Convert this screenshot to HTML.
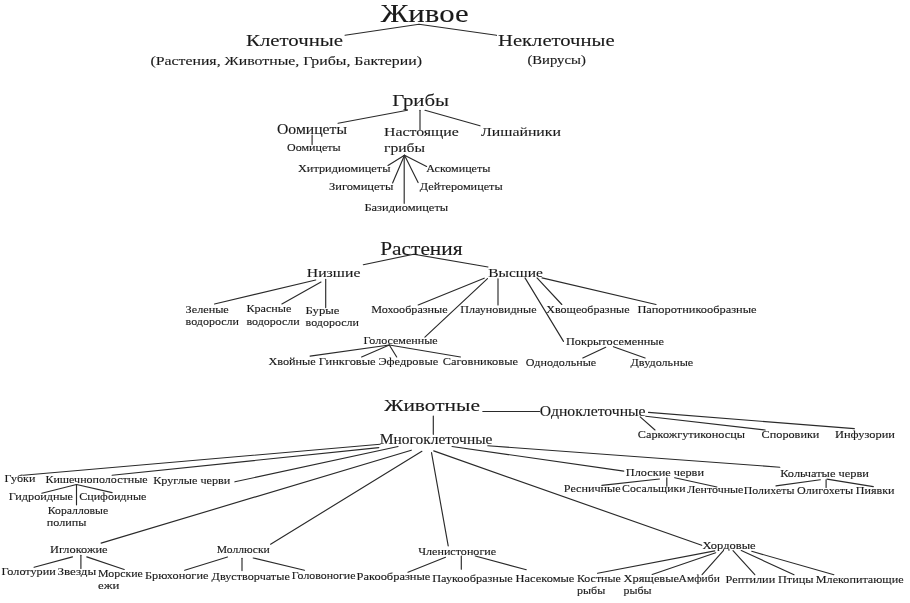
<!DOCTYPE html><html><head><meta charset="utf-8"><style>html,body{margin:0;padding:0;background:#fff;overflow:hidden;width:910px;height:603px;}svg{display:block;will-change:transform;}text{font-family:"Liberation Serif",serif;fill:#1a1a1a;stroke:#1a1a1a;stroke-width:0.12px;}</style></head><body>
<svg width="910" height="603" viewBox="0 0 910 603">
<rect width="910" height="603" fill="#fff"/>
<g fill="none" stroke="#2a2a2a" stroke-width="1.15" stroke-linecap="round" stroke-linejoin="round">
<polyline points="345.0,35.2 419.0,24.2 496.5,35.3"/>
<polyline points="338.1,123.3 407.4,110.3"/>
<polyline points="420.0,110.3 420.0,130.0"/>
<polyline points="425.0,110.3 480.0,125.8"/>
<polyline points="312.1,135.0 312.1,144.5"/>
<polyline points="388.0,165.5 404.5,155.3"/>
<polyline points="392.6,183.0 404.5,155.3"/>
<polyline points="404.2,155.3 404.2,203.3"/>
<polyline points="418.1,182.6 404.5,155.3"/>
<polyline points="426.6,166.4 404.5,155.3"/>
<polyline points="363.3,264.7 413.7,254.2 488.0,267.0"/>
<polyline points="214.5,304.0 315.7,280.0"/>
<polyline points="281.9,304.0 321.0,282.1"/>
<polyline points="325.7,279.4 325.7,307.6"/>
<polyline points="418.2,305.0 484.2,278.2"/>
<polyline points="424.9,337.2 487.5,278.7"/>
<polyline points="498.0,278.7 498.0,305.0"/>
<polyline points="563.5,341.4 525.0,277.9"/>
<polyline points="561.8,304.5 537.0,277.9"/>
<polyline points="656.0,304.5 542.0,277.9"/>
<polyline points="310.1,356.1 389.3,345.0"/>
<polyline points="361.6,357.0 389.3,345.0"/>
<polyline points="396.7,357.0 389.3,345.0"/>
<polyline points="460.5,357.0 389.3,345.0"/>
<polyline points="582.8,358.0 605.7,347.3"/>
<polyline points="645.1,358.0 613.4,346.7"/>
<polyline points="482.8,411.5 539.6,411.5"/>
<polyline points="433.3,416.1 433.3,434.3"/>
<polyline points="640.2,416.9 655.0,430.0"/>
<polyline points="645.7,416.2 765.2,430.0"/>
<polyline points="648.5,412.4 854.3,428.6"/>
<polyline points="380.1,444.3 23.1,475.2"/>
<polyline points="378.8,447.6 112.1,475.2"/>
<polyline points="398.1,446.5 234.9,481.8"/>
<polyline points="411.3,450.2 101.1,543.1"/>
<polyline points="421.9,451.3 270.6,544.2"/>
<polyline points="431.5,452.6 448.2,545.9"/>
<polyline points="433.7,450.9 701.7,545.3"/>
<polyline points="452.0,446.5 623.8,471.1"/>
<polyline points="487.8,445.8 779.8,467.2"/>
<polyline points="41.8,493.2 76.5,484.5 112.1,492.6"/>
<polyline points="76.5,484.5 76.5,504.8"/>
<polyline points="601.9,485.4 659.4,479.0"/>
<polyline points="666.8,477.7 666.8,486.2"/>
<polyline points="674.7,477.7 716.9,487.0"/>
<polyline points="776.0,485.9 820.3,479.8"/>
<polyline points="826.1,479.8 826.1,487.4"/>
<polyline points="827.0,479.1 873.3,486.6"/>
<polyline points="34.1,567.3 72.5,556.9"/>
<polyline points="80.9,555.2 80.9,568.4"/>
<polyline points="86.8,556.9 124.2,569.5"/>
<polyline points="184.7,570.3 227.5,557.0"/>
<polyline points="242.0,558.2 242.0,570.6"/>
<polyline points="253.2,558.0 304.4,570.3"/>
<polyline points="408.0,572.3 445.5,557.3"/>
<polyline points="461.3,556.0 461.3,569.2"/>
<polyline points="475.3,556.0 526.3,569.7"/>
<polyline points="597.6,573.3 714.8,550.9"/>
<polyline points="652.2,574.5 715.7,552.8"/>
<polyline points="702.1,574.7 723.4,550.6"/>
<polyline points="754.8,574.7 733.0,550.6"/>
<polyline points="794.0,574.7 741.3,550.6"/>
<polyline points="833.9,574.7 751.7,551.3"/>
</g>
<text x="380.8" y="21.8" font-size="25.0" textLength="87.8" lengthAdjust="spacingAndGlyphs">Живое</text>
<text x="246.0" y="46.0" font-size="17.0" textLength="97.0" lengthAdjust="spacingAndGlyphs">Клеточные</text>
<text x="150.4" y="65.0" font-size="12.5" textLength="271.6" lengthAdjust="spacingAndGlyphs">(Растения, Животные, Грибы, Бактерии)</text>
<text x="498.0" y="46.2" font-size="17.0" textLength="116.6" lengthAdjust="spacingAndGlyphs">Неклеточные</text>
<text x="527.4" y="64.0" font-size="12.5" textLength="58.4" lengthAdjust="spacingAndGlyphs">(Вирусы)</text>
<text x="392.2" y="105.9" font-size="17.5" textLength="56.8" lengthAdjust="spacingAndGlyphs">Грибы</text>
<text x="277.0" y="133.9" font-size="13.6" textLength="70.0" lengthAdjust="spacingAndGlyphs">Оомицеты</text>
<text x="287.0" y="151.0" font-size="10.0" textLength="53.6" lengthAdjust="spacingAndGlyphs">Оомицеты</text>
<text x="384.0" y="136.0" font-size="13.2" textLength="74.8" lengthAdjust="spacingAndGlyphs">Настоящие</text>
<text x="384.0" y="151.6" font-size="13.2" textLength="41.0" lengthAdjust="spacingAndGlyphs">грибы</text>
<text x="481.0" y="136.0" font-size="13.2" textLength="80.0" lengthAdjust="spacingAndGlyphs">Лишайники</text>
<text x="298.0" y="172.1" font-size="10.5" textLength="92.4" lengthAdjust="spacingAndGlyphs">Хитридиомицеты</text>
<text x="329.0" y="189.5" font-size="10.5" textLength="64.4" lengthAdjust="spacingAndGlyphs">Зигомицеты</text>
<text x="426.2" y="172.2" font-size="10.5" textLength="64.2" lengthAdjust="spacingAndGlyphs">Аскомицеты</text>
<text x="419.8" y="189.9" font-size="10.5" textLength="82.8" lengthAdjust="spacingAndGlyphs">Дейтеромицеты</text>
<text x="364.4" y="211.4" font-size="10.5" textLength="83.8" lengthAdjust="spacingAndGlyphs">Базидиомицеты</text>
<text x="380.2" y="254.8" font-size="18.5" textLength="82.4" lengthAdjust="spacingAndGlyphs">Растения</text>
<text x="306.8" y="276.5" font-size="13.5" textLength="53.6" lengthAdjust="spacingAndGlyphs">Низшие</text>
<text x="488.2" y="277.1" font-size="13.5" textLength="54.6" lengthAdjust="spacingAndGlyphs">Высшие</text>
<text x="185.6" y="312.8" font-size="10.5" textLength="43.2" lengthAdjust="spacingAndGlyphs">Зеленые</text>
<text x="185.6" y="324.7" font-size="10.5" textLength="53.4" lengthAdjust="spacingAndGlyphs">водоросли</text>
<text x="246.4" y="311.8" font-size="10.5" textLength="45.0" lengthAdjust="spacingAndGlyphs">Красные</text>
<text x="246.4" y="324.7" font-size="10.5" textLength="53.4" lengthAdjust="spacingAndGlyphs">водоросли</text>
<text x="305.6" y="313.9" font-size="10.5" textLength="33.8" lengthAdjust="spacingAndGlyphs">Бурые</text>
<text x="305.6" y="326.0" font-size="10.5" textLength="53.4" lengthAdjust="spacingAndGlyphs">водоросли</text>
<text x="371.2" y="312.7" font-size="10.5" textLength="76.4" lengthAdjust="spacingAndGlyphs">Мохообразные</text>
<text x="460.2" y="312.7" font-size="10.5" textLength="76.4" lengthAdjust="spacingAndGlyphs">Плауновидные</text>
<text x="546.2" y="313.0" font-size="10.5" textLength="83.4" lengthAdjust="spacingAndGlyphs">Хвощеобразные</text>
<text x="637.4" y="313.0" font-size="10.5" textLength="119.2" lengthAdjust="spacingAndGlyphs">Папоротникообразные</text>
<text x="363.4" y="343.7" font-size="10.5" textLength="74.2" lengthAdjust="spacingAndGlyphs">Голосеменные</text>
<text x="268.4" y="364.9" font-size="10.5" textLength="47.4" lengthAdjust="spacingAndGlyphs">Хвойные</text>
<text x="318.8" y="365.4" font-size="10.5" textLength="56.8" lengthAdjust="spacingAndGlyphs">Гинкговые</text>
<text x="378.4" y="365.2" font-size="10.5" textLength="59.8" lengthAdjust="spacingAndGlyphs">Эфедровые</text>
<text x="442.8" y="365.1" font-size="10.5" textLength="75.2" lengthAdjust="spacingAndGlyphs">Саговниковые</text>
<text x="566.0" y="345.2" font-size="10.5" textLength="98.0" lengthAdjust="spacingAndGlyphs">Покрытосеменные</text>
<text x="525.8" y="366.0" font-size="10.5" textLength="70.4" lengthAdjust="spacingAndGlyphs">Однодольные</text>
<text x="630.6" y="366.0" font-size="10.5" textLength="62.6" lengthAdjust="spacingAndGlyphs">Двудольные</text>
<text x="384.2" y="410.9" font-size="17.0" textLength="95.8" lengthAdjust="spacingAndGlyphs">Животные</text>
<text x="379.8" y="443.9" font-size="14.5" textLength="112.6" lengthAdjust="spacingAndGlyphs">Многоклеточные</text>
<text x="539.8" y="415.7" font-size="14.5" textLength="105.8" lengthAdjust="spacingAndGlyphs">Одноклеточные</text>
<text x="637.8" y="437.7" font-size="10.5" textLength="107.2" lengthAdjust="spacingAndGlyphs">Саркожгутиконосцы</text>
<text x="761.6" y="437.6" font-size="10.5" textLength="57.8" lengthAdjust="spacingAndGlyphs">Споровики</text>
<text x="835.0" y="437.8" font-size="10.5" textLength="60.0" lengthAdjust="spacingAndGlyphs">Инфузории</text>
<text x="4.6" y="482.3" font-size="11.0" textLength="30.8" lengthAdjust="spacingAndGlyphs">Губки</text>
<text x="45.4" y="482.9" font-size="11.0" textLength="102.2" lengthAdjust="spacingAndGlyphs">Кишечнополостные</text>
<text x="153.2" y="484.0" font-size="11.0" textLength="77.2" lengthAdjust="spacingAndGlyphs">Круглые черви</text>
<text x="8.8" y="499.8" font-size="11.0" textLength="64.2" lengthAdjust="spacingAndGlyphs">Гидроидные</text>
<text x="79.2" y="499.8" font-size="11.0" textLength="67.2" lengthAdjust="spacingAndGlyphs">Сцифоидные</text>
<text x="47.8" y="514.1" font-size="11.0" textLength="60.4" lengthAdjust="spacingAndGlyphs">Коралловые</text>
<text x="46.8" y="525.5" font-size="11.0" textLength="39.6" lengthAdjust="spacingAndGlyphs">полипы</text>
<text x="625.8" y="476.4" font-size="10.5" textLength="78.2" lengthAdjust="spacingAndGlyphs">Плоские черви</text>
<text x="563.8" y="492.2" font-size="10.5" textLength="56.8" lengthAdjust="spacingAndGlyphs">Ресничные</text>
<text x="622.0" y="492.2" font-size="10.5" textLength="63.6" lengthAdjust="spacingAndGlyphs">Сосальщики</text>
<text x="687.2" y="492.7" font-size="10.5" textLength="56.2" lengthAdjust="spacingAndGlyphs">Ленточные</text>
<text x="780.2" y="477.3" font-size="10.5" textLength="88.8" lengthAdjust="spacingAndGlyphs">Кольчатые черви</text>
<text x="743.8" y="493.5" font-size="10.5" textLength="50.6" lengthAdjust="spacingAndGlyphs">Полихеты</text>
<text x="797.0" y="493.5" font-size="10.5" textLength="56.2" lengthAdjust="spacingAndGlyphs">Олигохеты</text>
<text x="855.8" y="493.5" font-size="10.5" textLength="38.8" lengthAdjust="spacingAndGlyphs">Пиявки</text>
<text x="50.0" y="553.0" font-size="10.5" textLength="57.6" lengthAdjust="spacingAndGlyphs">Иглокожие</text>
<text x="1.4" y="574.9" font-size="10.5" textLength="54.4" lengthAdjust="spacingAndGlyphs">Голотурии</text>
<text x="57.4" y="575.4" font-size="10.5" textLength="38.8" lengthAdjust="spacingAndGlyphs">Звезды</text>
<text x="98.0" y="577.1" font-size="10.5" textLength="44.8" lengthAdjust="spacingAndGlyphs">Морские</text>
<text x="98.0" y="588.6" font-size="10.5" textLength="21.4" lengthAdjust="spacingAndGlyphs">ежи</text>
<text x="216.8" y="553.4" font-size="10.5" textLength="53.0" lengthAdjust="spacingAndGlyphs">Моллюски</text>
<text x="145.0" y="578.7" font-size="10.5" textLength="63.4" lengthAdjust="spacingAndGlyphs">Брюхоногие</text>
<text x="211.6" y="579.5" font-size="10.5" textLength="78.2" lengthAdjust="spacingAndGlyphs">Двустворчатые</text>
<text x="291.8" y="579.0" font-size="10.5" textLength="63.6" lengthAdjust="spacingAndGlyphs">Головоногие</text>
<text x="418.2" y="554.6" font-size="10.5" textLength="78.0" lengthAdjust="spacingAndGlyphs">Членистоногие</text>
<text x="356.6" y="580.2" font-size="10.5" textLength="73.8" lengthAdjust="spacingAndGlyphs">Ракообразные</text>
<text x="432.2" y="581.8" font-size="10.5" textLength="80.4" lengthAdjust="spacingAndGlyphs">Паукообразные</text>
<text x="515.6" y="581.8" font-size="10.5" textLength="58.8" lengthAdjust="spacingAndGlyphs">Насекомые</text>
<text x="702.6" y="548.9" font-size="10.5" textLength="53.0" lengthAdjust="spacingAndGlyphs">Хордовые</text>
<text x="577.0" y="581.9" font-size="10.5" textLength="43.8" lengthAdjust="spacingAndGlyphs">Костные</text>
<text x="577.0" y="594.4" font-size="10.5" textLength="28.2" lengthAdjust="spacingAndGlyphs">рыбы</text>
<text x="623.6" y="581.9" font-size="10.5" textLength="55.4" lengthAdjust="spacingAndGlyphs">Хрящевые</text>
<text x="623.6" y="594.4" font-size="10.5" textLength="28.0" lengthAdjust="spacingAndGlyphs">рыбы</text>
<text x="678.6" y="581.9" font-size="10.5" textLength="41.2" lengthAdjust="spacingAndGlyphs">Амфиби</text>
<text x="725.6" y="582.7" font-size="10.5" textLength="49.6" lengthAdjust="spacingAndGlyphs">Рептилии</text>
<text x="778.0" y="582.7" font-size="10.5" textLength="35.6" lengthAdjust="spacingAndGlyphs">Птицы</text>
<text x="815.8" y="582.7" font-size="10.5" textLength="87.8" lengthAdjust="spacingAndGlyphs">Млекопитающие</text>
</svg></body></html>
